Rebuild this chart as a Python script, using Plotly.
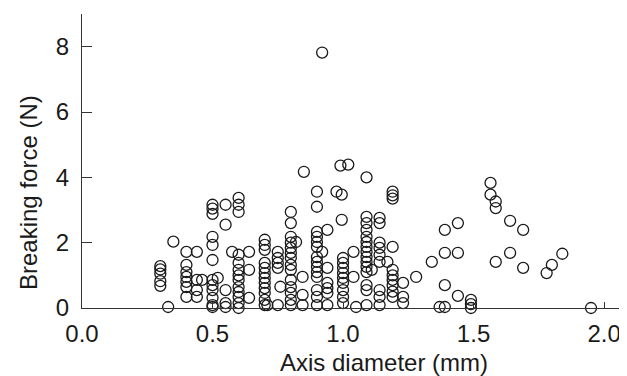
import plotly.graph_objects as go

# Axis diameter (mm) of each column of measurements
diameters = [0.30, 0.33, 0.35, 0.40, 0.44, 0.46, 0.50, 0.52, 0.55, 0.575,
             0.60, 0.64, 0.70, 0.71, 0.75, 0.76, 0.80, 0.82, 0.845, 0.85,
             0.90, 0.92, 0.94, 0.975, 0.99, 0.995, 1.00, 1.02, 1.04, 1.05,
             1.09, 1.11, 1.14, 1.17, 1.19, 1.23, 1.28, 1.34, 1.37, 1.39,
             1.44, 1.49, 1.565, 1.585, 1.64, 1.69, 1.78, 1.80, 1.84, 1.95]

# Breaking force (N) values observed at each diameter
forces = [
    [1.28, 1.18, 1.05, 0.82, 0.68],
    [0.03],
    [2.03],
    [1.72, 1.32, 1.10, 0.95, 0.80, 0.64, 0.34],
    [1.72, 0.86, 0.55, 0.34],
    [0.86],
    [3.16, 3.04, 2.88, 2.18, 1.93, 1.47, 0.86, 0.70, 0.55, 0.31, 0.09, 0.03],
    [0.92],
    [3.16, 2.55, 0.55, 0.15, 0.03],
    [1.72],
    [3.37, 3.16, 2.94, 1.63, 1.38, 1.17, 1.00, 0.86, 0.64, 0.49, 0.34, 0.15, 0.00],
    [1.72, 1.17, 0.31],
    [2.09, 1.93, 1.78, 1.38, 1.23, 1.07, 0.92, 0.77, 0.61, 0.46, 0.25, 0.09],
    [0.09],
    [1.72, 1.53, 1.38, 1.23, 0.09],
    [0.65],
    [2.94, 2.60, 2.18, 2.00, 1.84, 1.69, 1.53, 1.32, 1.17, 0.86, 0.64, 0.46, 0.25, 0.09],
    [2.02],
    [0.95, 0.40, 0.09],
    [4.17],
    [3.56, 3.10, 2.33, 2.18, 2.02, 1.87, 1.56, 1.41, 1.26, 1.10, 0.95, 0.55, 0.34, 0.09],
    [7.82, 1.72],
    [2.39, 1.23, 0.77, 0.61, 0.46, 0.09],
    [3.56],
    [4.36],
    [3.47, 2.70],
    [1.53, 1.38, 1.23, 1.07, 0.92, 0.77, 0.55, 0.34, 0.15],
    [4.39],
    [1.72, 0.95],
    [0.03],
    [4.00, 2.79, 2.60, 2.39, 2.18, 2.02, 1.87, 1.72, 1.56, 1.41, 1.26, 1.10, 0.70, 0.55, 0.09],
    [1.17],
    [2.76, 2.60, 2.00, 1.84, 1.63, 1.41, 0.55, 0.34, 0.09],
    [1.41],
    [3.56, 3.45, 3.35, 1.87, 1.17, 1.00, 0.86, 0.70, 0.50, 0.34],
    [0.77, 0.34, 0.15],
    [0.95],
    [1.41],
    [0.03],
    [2.39, 1.69, 0.70, 0.03],
    [2.60, 1.69, 0.37],
    [0.25, 0.12, 0.00],
    [3.83, 3.47],
    [3.26, 3.06, 1.41],
    [2.67, 1.69],
    [2.39, 1.23],
    [1.07],
    [1.32],
    [1.66],
    [0.00],
]

x_ticks = [0.0, 0.5, 1.0, 1.5, 2.0]
x_tick_labels = ["0.0", "0.5", "1.0", "1.5", "2.0"]
y_ticks = [0, 2, 4, 6, 8]
y_tick_labels = ["0", "2", "4", "6", "8"]

xs, ys = [], []
for d, fl in zip(diameters, forces):
    for f in fl:
        xs.append(d)
        ys.append(f)

FONT = "Liberation Sans, Arial, Helvetica, sans-serif"
INK = "#1a1a1a"
OFF = 8  # the page body adds an 8px margin around the figure
W, H = 627 - OFF, 376 - OFF
# plot area in window pixels: x 82..626, y 14..308
ML, MR, MT, MB = 82 - OFF, 1, 14 - OFF, 376 - 308

fig = go.Figure(go.Scatter(
    x=xs, y=ys, mode="markers", cliponaxis=False,
    marker=dict(symbol="circle-open", size=11, color=INK, line=dict(width=1.3)),
))

pw, ph = W - ML - MR, H - MT - MB


def px_to_paper(px, py):
    # window pixels -> paper fraction
    fx, fy = px - OFF, py - OFF
    return (fx - ML) / pw, (H - MB - fy) / ph


ax_x, ax_y = px_to_paper(384, 362)
ay_x, ay_y = px_to_paper(28, 193)

fig.update_layout(
    template="none",
    width=W, height=H,
    margin=dict(l=ML, r=MR, t=MT, b=MB, pad=0, autoexpand=False),
    paper_bgcolor="white", plot_bgcolor="white",
    showlegend=False,
    font=dict(family=FONT, size=24, color=INK),
    annotations=[
        dict(text="Axis diameter (mm)", x=ax_x, y=ax_y, xref="paper", yref="paper",
             showarrow=False, font=dict(size=24, family=FONT, color=INK),
             xanchor="center", yanchor="middle"),
        dict(text="Breaking force (N)", x=ay_x, y=ay_y, xref="paper", yref="paper",
             showarrow=False, textangle=-90, font=dict(size=24, family=FONT, color=INK),
             xanchor="center", yanchor="middle"),
    ],
)

fig.update_xaxes(
    range=[0, 2.084], automargin=False, showline=True, linecolor="#333", linewidth=1,
    showgrid=False, zeroline=False,
    ticks="inside", ticklen=6, tickcolor="#333", tickwidth=1,
    tickvals=x_ticks, ticktext=x_tick_labels, ticklabelstandoff=4,
    tickfont=dict(size=24, family=FONT, color=INK),
)
fig.update_yaxes(
    range=[0, 9.0], automargin=False, showline=True, linecolor="#333", linewidth=1,
    showgrid=False, zeroline=False,
    ticks="inside", ticklen=10, tickcolor="#333", tickwidth=1,
    tickvals=y_ticks, ticktext=y_tick_labels, ticklabelstandoff=7,
    tickfont=dict(size=24, family=FONT, color=INK),
)

fig.write_html("out.html")
